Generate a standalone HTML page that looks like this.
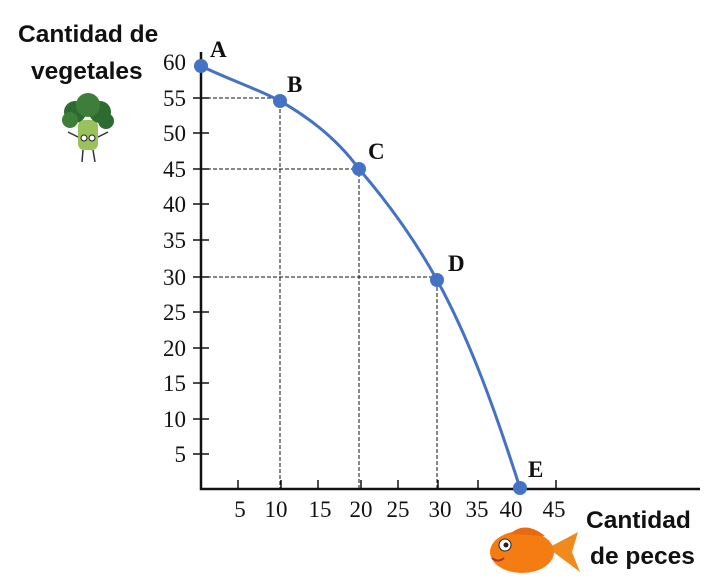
<!DOCTYPE html>
<html><head><meta charset="utf-8"><style>
html,body{margin:0;padding:0;background:#fff;}
svg{display:block;}
.t{font-family:"Liberation Serif",serif;font-size:23px;fill:#111;}
.b{font-family:"Liberation Serif",serif;font-size:23px;font-weight:bold;fill:#111;}
.h{font-family:"Liberation Sans",sans-serif;font-size:24.5px;font-weight:bold;fill:#111;}
</style></head><body>
<svg width="712" height="585" viewBox="0 0 712 585">
<text class="h" x="18" y="42">Cantidad de</text>
<text class="h" x="31" y="79">vegetales</text>
<text class="h" x="586" y="528">Cantidad</text>
<text class="h" x="590" y="564">de peces</text>
<g>
<line x1="80" y1="138" x2="68" y2="132" stroke="#333" stroke-width="1.5"/>
<line x1="96" y1="138" x2="108" y2="132" stroke="#333" stroke-width="1.5"/>
<line x1="83" y1="150" x2="82" y2="162" stroke="#333" stroke-width="1.5"/>
<line x1="93" y1="150" x2="95" y2="162" stroke="#333" stroke-width="1.5"/>
<rect x="78" y="120" width="20" height="30" rx="6" fill="#9ac25a"/>
<circle cx="75" cy="112" r="11" fill="#2e6b30"/>
<circle cx="100" cy="112" r="11" fill="#2e6b30"/>
<circle cx="88" cy="105" r="12" fill="#3d7f3a"/>
<circle cx="70" cy="120" r="8" fill="#3d7f3a"/>
<circle cx="106" cy="121" r="8" fill="#2e6b30"/>
<circle cx="84" cy="138" r="3" fill="#fff" stroke="#222"/><circle cx="92" cy="138" r="3" fill="#fff" stroke="#222"/>
</g>
<g>
<path d="M548 548 L578 532 L572 552 L580 572 Z" fill="#f08a1c"/>
<ellipse cx="522" cy="552" rx="32" ry="21" fill="#f57c12"/>
<path d="M510 534 Q525 520 545 536 Z" fill="#e86a10"/>
<circle cx="505" cy="545" r="6" fill="#fff" stroke="#222"/><circle cx="506" cy="545" r="2.5" fill="#222"/>
<path d="M492 558 Q498 563 504 558" stroke="#a33" stroke-width="2" fill="none"/>
</g>
<g stroke="#111" stroke-width="1" stroke-dasharray="4,2" fill="none">
<path d="M201 98 H280 V489"/>
<path d="M201 169 H359 V489"/>
<path d="M201 277 H437 V489"/>
</g>
<g stroke="#111" stroke-width="2.5" fill="none">
<path d="M201 52 V489 H700"/>
</g>
<g stroke="#111" stroke-width="1.5">
<line x1="193" y1="98" x2="209" y2="98"/><line x1="193" y1="133" x2="209" y2="133"/>
<line x1="193" y1="169" x2="209" y2="169"/><line x1="193" y1="204" x2="209" y2="204"/>
<line x1="193" y1="240" x2="209" y2="240"/><line x1="193" y1="277" x2="209" y2="277"/>
<line x1="193" y1="312" x2="209" y2="312"/><line x1="193" y1="348" x2="209" y2="348"/>
<line x1="193" y1="383" x2="209" y2="383"/><line x1="193" y1="419" x2="209" y2="419"/>
<line x1="193" y1="454" x2="209" y2="454"/>
<line x1="238" y1="480" x2="238" y2="489"/><line x1="281" y1="480" x2="281" y2="489"/>
<line x1="318" y1="480" x2="318" y2="489"/><line x1="361" y1="480" x2="361" y2="489"/>
<line x1="398" y1="480" x2="398" y2="489"/><line x1="438" y1="480" x2="438" y2="489"/>
<line x1="478" y1="480" x2="478" y2="489"/><line x1="556" y1="480" x2="556" y2="489"/>
</g>
<g class="t" text-anchor="end">
<text x="186" y="70">60</text><text x="186" y="106">55</text><text x="186" y="141">50</text>
<text x="186" y="177">45</text><text x="186" y="212">40</text><text x="186" y="248">35</text>
<text x="186" y="285">30</text><text x="186" y="320">25</text><text x="186" y="356">20</text>
<text x="186" y="391">15</text><text x="186" y="427">10</text><text x="186" y="462">5</text>
</g>
<g class="t" text-anchor="middle">
<text x="240" y="517">5</text><text x="276" y="517">10</text><text x="320" y="517">15</text>
<text x="361" y="517">20</text><text x="398" y="517">25</text><text x="440" y="517">30</text>
<text x="477" y="517">35</text><text x="511" y="517">40</text><text x="554" y="517">45</text>
</g>
<path d="M201 66 C230 80 260 90 280 101 C310 118 338 140 359 169 C390 205 415 240 437 280 C470 340 495 410 520 488" stroke="#4472c4" stroke-width="3" fill="none"/>
<g fill="#4472c4">
<circle cx="201" cy="66" r="7"/><circle cx="280" cy="101" r="7"/><circle cx="359" cy="169" r="7"/>
<circle cx="437" cy="280" r="7"/><circle cx="520" cy="488" r="7"/>
</g>
<text class="b" x="210" y="57">A</text><text class="b" x="287" y="92">B</text>
<text class="b" x="368" y="159">C</text><text class="b" x="448" y="271">D</text>
<text class="b" x="528" y="477">E</text>
</svg>
</body></html>
